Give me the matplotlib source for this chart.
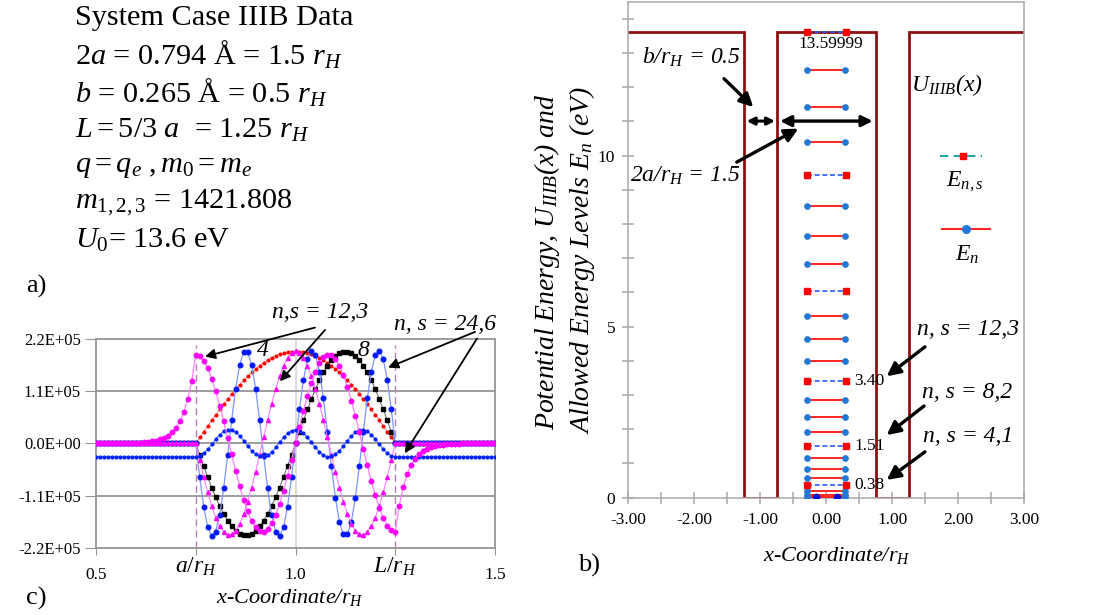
import numpy as np
import matplotlib
matplotlib.use('Agg')
import matplotlib.pyplot as plt
from matplotlib.ticker import MultipleLocator, FixedLocator

plt.rcParams['font.family'] = ['Liberation Serif', 'DejaVu Serif']
plt.rcParams['mathtext.fontset'] = 'custom'
plt.rcParams['mathtext.rm'] = 'Liberation Serif'
plt.rcParams['mathtext.it'] = 'Liberation Serif:italic'
plt.rcParams['mathtext.bf'] = 'Liberation Serif:bold'
plt.rcParams['axes.unicode_minus'] = False

# ---------------- data ----------------
# panel a: system parameters
info_lines = [
    'System Case IIIB Data',
    r'$\mathit{2a}$ = 0.794 Å = 1.5 $r_H$',
    r'$b$ = 0.265 Å = 0.5 $r_H$',
    r'$\mathit{L = 5/3\ a}$  = 1.25 $r_H$',
    r'$q = q_e\ ,m_{\mathit{0}} = m_e$',
    r'$m_{\mathit{1,2,3}}$ = 1421.808',
    r'$U_{\mathit{0}}$= 13.6 eV',
]

# panel b: potential profile (x/r_H, eV)
U_x = [-3.0, -1.25, -1.25, -0.75, -0.75, 0.75, 0.75, 1.25, 1.25, 3.0]
U_y = [13.6, 13.6, 0.0, 0.0, 13.6, 13.6, 0.0, 0.0, 13.6, 13.6]
# allowed energy levels (eV)
E_n = [0.02, 0.09, 0.21, 0.59, 0.85, 1.16, 1.91, 2.36, 2.86, 3.99, 4.63,
       5.31, 6.82, 7.65, 8.52, 10.41, 11.43, 12.49]
E_ns = [0.38, 1.51, 3.40, 6.04, 9.44, 13.60]
E_ns_labels = ['0.38', '1.51', '3.40', '13.59999']
ground_x = [-0.16, 0.16]
ground_y = [0.02, 0.02]
b_xticks = [-3, -2, -1, 0, 1, 2, 3]
b_yticks = [0, 5, 10]

# panel c: wavefunction samples (units of 1e4)
x_left = [0.50, 0.51, 0.52, 0.53, 0.54, 0.55, 0.56, 0.57, 0.58, 0.59, 0.60, 0.61,
          0.62, 0.63, 0.64, 0.65, 0.66, 0.67, 0.68, 0.69, 0.70, 0.71, 0.72, 0.73, 0.74]
x_well = [round(0.75 + 0.01 * i, 2) for i in range(51)]
x_right = [round(1.26 + 0.01 * i, 2) for i in range(25)]
side_zero = [0.0] * 25
side_blue = [-2.85] * 25

psi4 = [0, 1.21, 2.42, 3.62, 4.80, 5.96, 7.10, 8.22, 9.30, 10.34, 11.34, 12.30,
        13.21, 14.07, 14.87, 15.61, 16.29, 16.91, 17.46, 17.95, 18.36, 18.69,
        18.96, 19.15, 19.26, 19.3, 19.26, 19.15, 18.96, 18.69, 18.36, 17.95,
        17.46, 16.91, 16.29, 15.61, 14.87, 14.07, 13.21, 12.30, 11.34, 10.34,
        9.30, 8.22, 7.10, 5.96, 4.80, 3.62, 2.42, 1.21, 0]
psi8 = [0, -2.42, -4.80, -7.10, -9.30, -11.34, -13.21, -14.87, -16.29, -17.46,
        -18.36, -18.96, -19.26, -19.26, -18.96, -18.36, -17.46, -16.29, -14.87,
        -13.21, -11.34, -9.30, -7.10, -4.80, -2.42, 0, 2.42, 4.80, 7.10, 9.30,
        11.34, 13.21, 14.87, 16.29, 17.46, 18.36, 18.96, 19.26, 19.26, 18.96,
        18.36, 17.46, 16.29, 14.87, 13.21, 11.34, 9.30, 7.10, 4.80, 2.42, 0]
psi12a_left = [0, 0, 0, 0.01, 0.01, 0.02, 0.02, 0.03, 0.05, 0.07, 0.10, 0.14,
               0.20, 0.28, 0.40, 0.56, 0.80, 1.13, 1.61, 2.28, 3.23, 4.59, 6.51,
               9.24, 13.11]
psi12a = [18.6, 18.27, 17.29, 15.70, 13.56, 10.93, 7.92, 4.63, 1.17, -2.33,
          -5.75, -8.96, -11.86, -14.33, -16.30, -17.69, -18.45, -18.56, -18.02,
          -16.83, -15.05, -12.73, -9.97, -6.85, -3.49, 0, 3.49, 6.85, 9.97,
          12.73, 15.05, 16.83, 18.02, 18.56, 18.45, 17.69, 16.30, 14.33, 11.86,
          8.96, 5.75, 2.33, -1.17, -4.63, -7.92, -10.93, -13.56, -15.70, -17.29,
          -18.27, -18.6]
psi12a_right = [-13.11, -9.24, -6.51, -4.59, -3.23, -2.28, -1.61, -1.13, -0.80,
                -0.56, -0.40, -0.28, -0.20, -0.14, -0.10, -0.07, -0.05, -0.03,
                -0.02, -0.02, -0.01, -0.01, 0, 0, 0]
psi12b = [0, -3.62, -7.10, -10.34, -13.21, -15.61, -17.46, -18.69, -19.26,
          -19.15, -18.36, -16.91, -14.87, -12.30, -9.30, -5.96, -2.42, 1.21,
          4.80, 8.22, 11.34, 14.07, 16.29, 17.95, 18.96, 19.3, 18.96, 17.95,
          16.29, 14.07, 11.34, 8.22, 4.80, 1.21, -2.42, -5.96, -9.30, -12.30,
          -14.87, -16.91, -18.36, -19.15, -19.26, -18.69, -17.46, -15.61,
          -13.21, -10.34, -7.10, -3.62, 0]
psi24a = [0, -7.18, -13.35, -17.64, -19.46, -18.55, -15.02, -9.40, -2.44, 4.85,
          11.46, 16.46, 19.15, 19.15, 16.46, 11.46, 4.85, -2.44, -9.40, -15.02,
          -18.55, -19.46, -17.64, -13.35, -7.18, 0, 7.18, 13.35, 17.64, 19.46,
          18.55, 15.02, 9.40, 2.44, -4.85, -11.46, -16.46, -19.15, -19.15,
          -16.46, -11.46, -4.85, 2.44, 9.40, 15.02, 18.55, 19.46, 17.64, 13.35,
          7.18, 0]
psi24b = [-2.85, -2.65, -2.08, -1.21, -0.18, 0.88, 1.82, 2.50, 2.83, 2.76, 2.31,
          1.53, 0.53, -0.53, -1.53, -2.31, -2.76, -2.83, -2.50, -1.82, -0.88,
          0.18, 1.21, 2.08, 2.65, 2.85, 2.65, 2.08, 1.21, 0.18, -0.88, -1.82,
          -2.50, -2.83, -2.76, -2.31, -1.53, -0.53, 0.53, 1.53, 2.31, 2.76,
          2.83, 2.50, 1.82, 0.88, -0.18, -1.21, -2.08, -2.65, -2.85]
c_yticks = [-2.2e5, -1.1e5, 0.0, 1.1e5, 2.2e5]
c_xticks = [0.5, 0.75, 1.0, 1.25, 1.5]
c_xticklabels = ['0.5', r'$a/r_H$', '1.0', r'$L/r_H$', '1.5']

# ---------------- figure ----------------
W, H = 1114, 615
fig = plt.figure(figsize=(W / 100, H / 100), dpi=100)


def ftext(x, y, s, **kw):
    kw.setdefault('ha', 'left')
    kw.setdefault('va', 'center')
    return fig.text(x / W, 1 - y / H, s, **kw)


# ---- panel a ----
a_y = [18, 55, 93, 130, 167, 203, 240]
for yy, s in zip(a_y, info_lines):
    ftext(75, yy, s, fontsize=21.8)
ftext(26, 286, 'a)', fontsize=19)

# ---- panel c ----
axc = fig.add_axes([96 / W, 1 - 548 / H, 399 / W, 209.5 / H])
axc.set_xlim(0.5, 1.5)
axc.set_ylim(-2.2e5, 2.2e5)
gcol = '#959595'
for v in c_yticks[1:-1]:
    axc.axhline(v, color=gcol, lw=1.3, zorder=0.5)
axc.axvline(1.0, color='#dcdcdc', lw=1.6, zorder=0.4)
for sp in axc.spines.values():
    sp.set_color(gcol)
    sp.set_linewidth(1.3)
axc.set_yticks(c_yticks)
axc.set_yticklabels(['%.1E' % v for v in c_yticks], fontsize=12)
axc.set_xticks(c_xticks)
axc.set_xticklabels([])
axc.tick_params(axis='x', length=5, color=gcol, direction='out')
axc.tick_params(axis='y', length=8, color=gcol, pad=3)
xt = axc.get_xaxis_transform()
for xv, lab in zip(c_xticks, c_xticklabels):
    if lab.startswith('$'):
        axc.text(xv, -0.09, lab, transform=xt, ha='center', va='center', fontsize=17)
    else:
        axc.text(xv, -0.13, lab, transform=xt, ha='center', va='center', fontsize=12.5)

for xv in (0.75, 1.25):
    axc.plot([xv, xv], [-2.2e5, 2.07e5], color='#b480b4', lw=1.0,
             dashes=(5, 3), zorder=1)

x_all = np.array(x_left + x_well + x_right)
s = 1e4
axc.plot(x_all, np.array(side_zero + psi4 + side_zero) * s, color='#ff5050', lw=0.5,
         marker='o', ms=1.9, mfc='#ff0000', mec='#ff0000', zorder=2)
axc.plot(x_all, np.array(side_zero + psi8 + side_zero) * s, color='#666666', lw=0.7,
         marker='s', ms=2.3, mfc='k', mec='k', zorder=3)
axc.plot(x_all, np.array(side_zero + psi24a + side_zero) * s, color='#7f95ff', lw=0.9,
         marker='o', ms=3.3, mfc='#0018ff', mec='#0018ff', zorder=4)
axc.plot(x_all, np.array(side_zero + psi12b + side_zero) * s, color='#ff80ff', lw=0.8,
         marker='^', ms=2.9, mfc='#ff00ff', mec='#ff00ff', zorder=5)
axc.plot(x_all, np.array(side_blue + psi24b + side_blue) * s, color='#4060ff', lw=0.7,
         marker='o', ms=2.0, mfc='#0022ff', mec='#0022ff', zorder=6)
axc.plot(x_all, np.array(psi12a_left + psi12a + psi12a_right) * s, color='#ff80ff',
         lw=0.9, marker='o', ms=3.2, mfc='#ff00ff', mec='#ff00ff', zorder=7)

tk = dict(style='italic', fontsize=17, ha='center', va='center')
axc.text(1.061, 27.4e4, 'n,s = 12,3', **tk)
axc.text(1.375, 24.9e4, 'n, s = 24,6', **tk)
axc.text(0.919, 19.4e4, '4', **tk)
axc.text(1.17, 19.4e4, '8', **tk)
ap = dict(arrowstyle='-|>', color='k', lw=1.3, mutation_scale=15, shrinkA=0, shrinkB=0)
for tail, head in [((1.049, 24.3e4), (0.773, 18.2e4)),
                   ((1.074, 23.8e4), (0.961, 13.0e4)),
                   ((1.45, 23.4e4), (1.232, 15.9e4)),
                   ((1.455, 22.0e4), (1.274, -2.1e4))]:
    axc.annotate('', xy=head, xytext=tail, arrowprops=ap, annotation_clip=False, zorder=10)

ftext(290, 597, 'x-Coordinate/r$_H$', style='italic', fontsize=16, ha='center')
ftext(26, 598, 'c)', fontsize=19)

# ---- panel b ----
axb = fig.add_axes([628.3 / W, 1 - 497.7 / H, 396 / W, 496 / H])
axb.set_xlim(-3, 3)
axb.set_ylim(0, 14.5)
bcol = '#a8a8a8'
for sp in axb.spines.values():
    sp.set_color(bcol)
    sp.set_linewidth(1.1)
axb.xaxis.set_major_locator(FixedLocator(b_xticks))
axb.set_xticklabels(['%.2f' % v for v in b_xticks])
axb.xaxis.set_minor_locator(MultipleLocator(0.5))
axb.yaxis.set_major_locator(FixedLocator(b_yticks))
axb.set_yticklabels([str(v) for v in b_yticks])
axb.yaxis.set_minor_locator(MultipleLocator(1))
axb.tick_params(which='both', direction='inout', length=9, color=bcol, width=1.1)
axb.tick_params(axis='x', labelsize=12.5, pad=6)
axb.tick_params(axis='y', labelsize=12.5, pad=5)

axb.plot(U_x, U_y, color='#8c1010', lw=2.0, zorder=2, solid_joinstyle='miter')
hw_s, hw_d = 0.29, 0.30
for E in E_n:
    axb.plot([-hw_s, hw_s], [E, E], color='#ff2525', lw=1.4, marker='o', ms=3.8,
             mfc='#1f78d8', mec='#1f78d8', zorder=4)
axb.plot(ground_x, ground_y, ls='none', marker='o', ms=4.5, mfc='#0010d8',
         mec='#0010d8', zorder=5)
for E in E_ns:
    axb.plot([-hw_d, hw_d], [E, E], color='#2a5cff', lw=1.2, ls=(0, (3, 1.6)),
             marker='s', ms=3.8, mfc='#ff0000', mec='#ff0000', zorder=4)

axb.text(0.07, 13.27, E_ns_labels[3], fontsize=12.5, ha='center', va='center')
for lab, E in zip(E_ns_labels[:3], E_ns[:3]):
    axb.text(0.42, E, lab, fontsize=12.5, ha='left', va='center')

it = dict(style='italic', fontsize=17, va='center')
axb.text(-2.80, 12.88, 'b/r$_H$ = 0.5', ha='left', **it)
axb.text(-2.975, 9.42, '2a/r$_H$ = 1.5', ha='left', **it)
axb.text(1.28, 12.05, 'U$_{IIIB}$(x)', ha='left', **it)
axb.text(2.10, 9.23, 'E$_{n,s}$', ha='center', **it)
axb.text(2.13, 7.09, 'E$_n$', ha='center', **it)
axb.text(1.37, 4.92, 'n, s = 12,3', ha='left', **it)
axb.text(1.445, 3.08, 'n, s = 8,2', ha='left', **it)
axb.text(1.47, 1.78, 'n, s = 4,1', ha='left', **it)

# legend glyphs
axb.plot([1.72, 2.355], [10.0, 10.0], color='#20a8a8', lw=1.5, ls=(0, (4, 2.5)), zorder=4)
axb.plot([2.07], [10.0], ls='none', marker='s', ms=5, mfc='#ff0000', mec='#ff0000', zorder=5)
axb.plot([1.75, 2.48], [7.85, 7.85], color='#ff2525', lw=1.5, zorder=4)
axb.plot([2.11], [7.85], ls='none', marker='o', ms=5.5, mfc='#1f78d8', mec='#1f78d8', zorder=5)

apb = dict(arrowstyle='-|>', color='k', lw=2.4, mutation_scale=20, shrinkA=0, shrinkB=0)
for tail, head in [((-1.55, 12.25), (-1.106, 11.42)),
                   ((-1.357, 9.81), (-0.424, 10.79)),
                   ((1.495, 4.41), (0.915, 3.55)),
                   ((1.48, 2.68), (0.915, 1.83)),
                   ((1.495, 1.34), (0.915, 0.52))]:
    axb.annotate('', xy=head, xytext=tail, arrowprops=apb, zorder=10)
apd_s = dict(arrowstyle='<|-|>', color='k', lw=2.2, mutation_scale=11, shrinkA=0, shrinkB=0)
apd = dict(arrowstyle='<|-|>', color='k', lw=2.4, mutation_scale=16, shrinkA=0, shrinkB=0)
axb.annotate('', xy=(-0.777, 11.01), xytext=(-1.206, 11.01), arrowprops=apd_s, zorder=10)
axb.annotate('', xy=(0.703, 11.01), xytext=(-0.70, 11.01), arrowprops=apd, zorder=10)

ftext(547, 262, 'Potential Energy, U$_{IIIB}$(x) and', rotation=90, style='italic',
      fontsize=20, ha='center')
ftext(582, 260, 'Allowed Energy Levels E$_n$ (eV)', rotation=90, style='italic',
      fontsize=20, ha='center')
ftext(837, 555, 'x-Coordinate/r$_H$', style='italic', fontsize=16, ha='center')
ftext(578, 565, 'b)', fontsize=19)

fig.savefig('out.png', dpi=100)
